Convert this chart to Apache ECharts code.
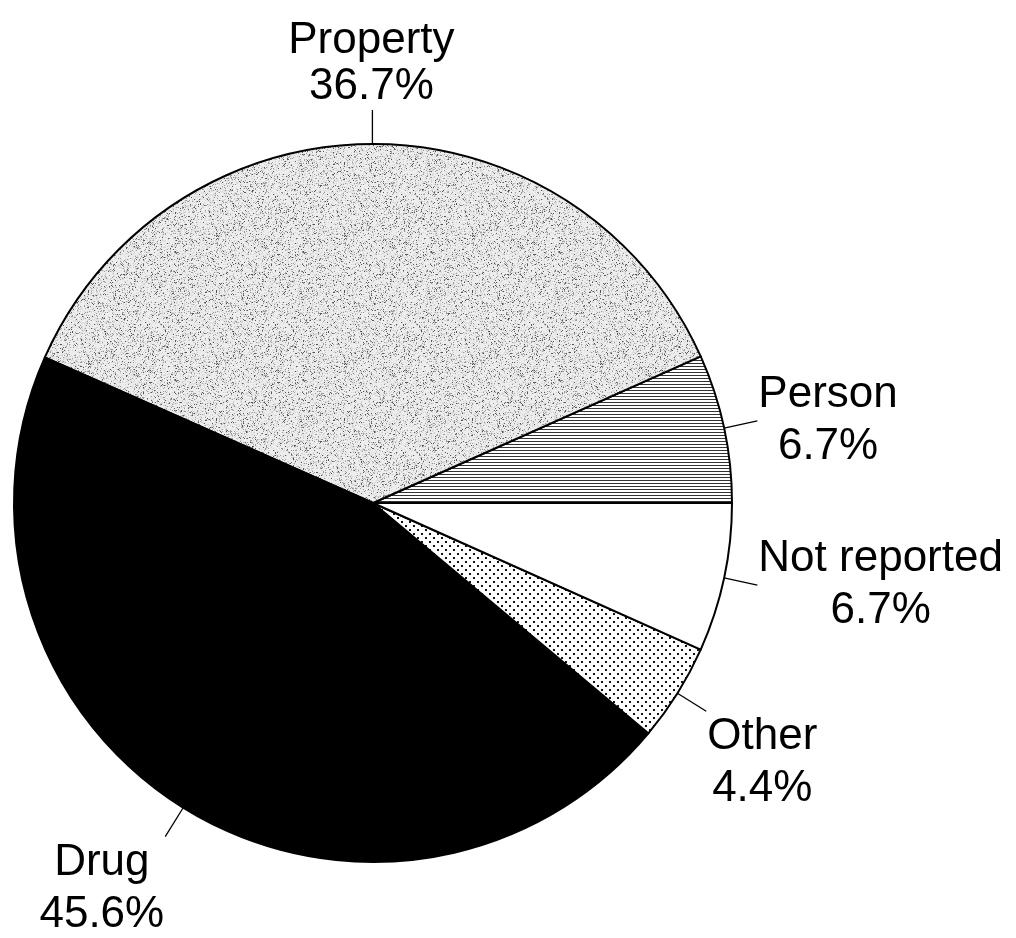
<!DOCTYPE html>
<html>
<head>
<meta charset="utf-8">
<script src="https://cdn.jsdelivr.net/npm/echarts@6/dist/echarts.min.js"></script>
<style>
html,body{margin:0;padding:0;background:#fff;}
#chart{width:1016px;height:938px;}
</style>
</head>
<body>
<div id="chart"></div>
<script>
// ---- data ----
var categories = ['Person', 'Property', 'Drug', 'Other', 'Not reported'];
var values = [6.7, 36.7, 45.6, 4.4, 6.7];

// ---- fill patterns (styling only) ----
function makeCanvas(w, h) {
  var c = document.createElement('canvas');
  c.width = w; c.height = h;
  return c;
}
function hash(x, y) {
  var n = x * 374761393 + y * 668265263;
  n = (n ^ (n >>> 13)) * 1274126177;
  n = n ^ (n >>> 16);
  return ((n >>> 0) % 10000) / 10000;
}
function stipplePattern() {
  var s = 128, c = makeCanvas(s, s), g = c.getContext('2d');
  g.fillStyle = '#ededed'; g.fillRect(0, 0, s, s);
  for (var y = 0; y < s; y++) {
    for (var x = 0; x < s; x++) {
      var h = hash(x, y);
      if (h < 0.10) { g.fillStyle = '#9a9a9a'; g.fillRect(x, y, 1, 1); }
      else if (h < 0.14) { g.fillStyle = '#555'; g.fillRect(x, y, 1, 1); }
      else if (h < 0.30) { g.fillStyle = '#d2d2d2'; g.fillRect(x, y, 1, 1); }
    }
  }
  return c;
}
function hLinePattern() {
  var c = makeCanvas(8, 3), g = c.getContext('2d');
  g.fillStyle = '#fff'; g.fillRect(0, 0, 8, 3);
  g.fillStyle = '#333'; g.fillRect(0, 0, 8, 1);
  return c;
}
function dotPattern() {
  var c = makeCanvas(8, 8), g = c.getContext('2d');
  g.fillStyle = '#fff'; g.fillRect(0, 0, 8, 8);
  g.fillStyle = '#111';
  g.fillRect(1, 1, 2, 2);
  g.fillRect(5, 5, 2, 2);
  return c;
}
var fills = {
  'Person': { image: hLinePattern(), repeat: 'repeat' },
  'Property': { image: stipplePattern(), repeat: 'repeat' },
  'Drug': '#000',
  'Other': { image: dotPattern(), repeat: 'repeat' },
  'Not reported': '#fff'
};
var labelAnchor = {
  'Person': { align: 'left', verticalAlign: 'middle' },
  'Property': { align: 'center', verticalAlign: 'bottom' },
  'Drug': { align: 'right', verticalAlign: 'top' },
  'Other': { align: 'left', verticalAlign: 'top' },
  'Not reported': { align: 'left', verticalAlign: 'middle' }
};

var data = categories.map(function (name, i) {
  return {
    name: name,
    value: values[i],
    itemStyle: { color: fills[name] },
    label: { lineHeight: name === 'Property' ? 46 : 52 }
  };
});

var chart = echarts.init(document.getElementById('chart'), null, { renderer: 'canvas' });
chart.setOption({
  animation: false,
  backgroundColor: '#fff',
  series: [{
    type: 'pie',
    center: [373, 503],
    radius: 359,
    startAngle: 0,
    clockwise: false,
    avoidLabelOverlap: false,
    data: data,
    itemStyle: { borderColor: '#000', borderWidth: 2 },
    emphasis: { disabled: true },
    label: {
      show: true,
      position: 'outside',
      distanceToLabelLine: 1,
      color: '#000',
      fontFamily: 'Liberation Sans, Arial, sans-serif',
      fontSize: 44,
      formatter: function (p) {
        return '{t|' + p.name + '}\n{t|' + p.value + '%}';
      },
      rich: {
        t: { align: 'center', fontSize: 44, fontFamily: 'Liberation Sans, Arial, sans-serif', color: '#000' }
      }
    },
    labelLine: {
      show: true,
      length: 34,
      length2: 0,
      lineStyle: { color: '#000', width: 1.3 }
    },
    labelLayout: function (params) {
      var name = categories[params.dataIndex];
      return labelAnchor[name];
    }
  }]
});
</script>
</body>
</html>
